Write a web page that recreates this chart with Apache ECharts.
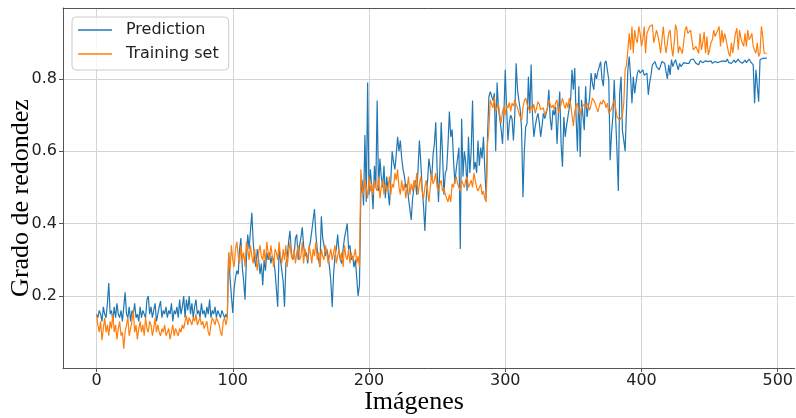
<!DOCTYPE html>
<html>
    <head>
        <meta charset="utf-8" />
        <title>Grado de redondez</title>
        <script src="https://cdn.jsdelivr.net/npm/echarts@6.0.0/dist/echarts.min.js"></script>
        <script>
            // valores, índice = imagen
            const prediction = [
                0.15,0.14,0.16,0.15,0.13,0.17,0.15,0.14,0.18,0.236,
                0.15,0.16,0.13,0.17,0.14,0.18,0.15,0.14,0.16,0.13,
                0.17,0.21,0.15,0.14,0.17,0.13,0.16,0.15,0.18,0.14,
                0.15,0.13,0.17,0.14,0.16,0.15,0.14,0.19,0.2,0.15,
                0.17,0.14,0.16,0.18,0.13,0.15,0.17,0.186,0.14,0.16,
                0.15,0.17,0.14,0.16,0.15,0.18,0.13,0.16,0.15,0.17,
                0.14,0.19,0.15,0.17,0.2,0.14,0.19,0.16,0.2,0.15,
                0.18,0.14,0.17,0.19,0.15,0.16,0.14,0.18,0.15,0.16,
                0.14,0.17,0.15,0.19,0.14,0.16,0.15,0.17,0.14,0.16,
                0.15,0.14,0.16,0.15,0.14,0.15,0.14,
                // 97
                0.32,0.25,0.2,0.153,0.22,0.25,0.27,0.26,0.33,0.36,
                0.28,0.24,0.19,0.3,0.37,0.33,0.38,0.43,0.35,0.3,
                0.28,0.33,0.3,0.26,0.29,0.23,0.3,0.27,0.32,0.3,
                0.32,0.29,0.31,0.3,0.27,0.22,0.17,0.33,0.3,0.27,
                0.24,0.17,0.29,0.31,0.35,0.38,0.32,0.3,0.31,0.36,
                0.37,0.3,0.34,0.36,0.39,0.34,0.31,0.32,0.29,0.33,
                0.35,0.38,0.41,0.44,0.37,0.33,0.3,0.28,0.42,0.36,
                0.34,0.31,0.33,0.31,0.28,0.24,0.17,0.26,0.31,0.33,
                0.37,0.32,0.3,0.29,0.33,0.36,0.38,0.4,0.33,0.34,
                0.3,0.31,0.28,0.3,0.25,0.2,0.23,
                // 194
                0.48,0.52,0.45,0.645,0.46,0.79,0.48,0.55,0.5,0.44,
                0.56,0.5,0.74,0.49,0.58,0.53,0.5,0.56,0.47,0.53,
                0.49,0.45,0.52,0.6,0.57,0.55,0.59,0.64,0.6,0.63,
                0.58,0.55,0.53,0.5,0.51,0.47,0.44,0.41,0.47,0.5,
                0.52,0.48,0.55,0.63,0.57,0.5,0.45,0.38,0.47,0.52,
                0.58,0.55,0.52,0.59,0.62,0.68,0.55,0.46,0.55,0.68,
                0.59,0.48,0.54,0.55,0.62,0.71,0.64,0.66,0.58,0.51,
                0.55,0.58,0.61,0.33,0.69,0.53,0.6,0.57,0.49,0.64,
                0.54,0.6,0.74,0.55,0.57,0.54,0.63,0.56,0.61,0.58,
                0.64,0.55,0.47,
                // 287
                0.64,0.75,0.765,0.77,0.74,0.76,0.6,0.79,0.72,0.69,
                0.66,0.62,0.7,0.825,0.72,0.63,0.68,0.7,0.69,0.63,
                0.7,0.843,0.77,0.74,0.714,0.66,0.473,0.6,0.668,0.677,
                0.806,0.705,0.84,0.7,0.64,0.668,0.69,0.705,0.68,0.64,
                0.67,0.705,0.69,0.686,0.72,0.77,0.69,0.658,0.714,0.7,
                0.723,0.62,0.7,0.765,0.62,0.557,0.695,0.64,0.67,0.695,
                0.72,0.742,0.825,0.77,0.83,0.695,0.6,0.78,0.584,0.742,
                0.7,0.658,0.78,0.695,0.723,0.75,0.816,0.788,0.77,0.816,
                0.8,0.82,0.834,0.848,0.8,0.78,0.843,0.85,0.853,0.797,
                0.575,0.65,0.695,0.797,0.695,0.6,0.49,0.76,0.806,0.658,
                0.63,0.6,
                // 389
                0.714,0.825,0.862,0.806,0.733,0.806,0.76,0.79,0.816,0.825,
                0.816,0.82,0.825,0.81,0.806,0.816,0.756,0.79,0.811,0.839,
                0.839,0.848,0.834,0.83,0.825,0.83,0.848,0.853,0.843,0.82,
                0.8,0.839,0.811,0.853,0.834,0.845,0.853,0.839,0.825,0.843,
                0.834,0.839,0.845,0.848,0.843,0.848,0.843,0.853,0.848,0.855,
                0.85,0.843,0.848,0.839,0.85,0.848,0.845,0.843,0.85,0.855,
                0.848,0.845,0.85,0.843,0.839,0.848,0.852,0.845,0.84,0.848,
                0.843,0.85,0.845,0.848,0.855,0.845,0.85,0.843,0.848,0.852,
                0.845,0.85,0.855,0.848,0.85,0.843,0.848,0.852,0.845,0.85,
                0.855,0.848,0.852,0.839,0.733,0.825,0.83,0.737,0.853,0.857,
                0.857,0.855,0.857,0.858
            ];

            const trainingSet = [
                0.15,0.12,0.1,0.13,0.078,0.11,0.14,0.1,0.12,0.09,
                0.13,0.11,0.15,0.1,0.12,0.08,0.11,0.13,0.09,0.1,
                0.054,0.1,0.12,0.14,0.09,0.11,0.13,0.16,0.1,0.12,
                0.08,0.11,0.13,0.1,0.12,0.09,0.14,0.11,0.1,0.13,
                0.12,0.09,0.11,0.14,0.1,0.12,0.1,0.09,0.11,0.1,
                0.12,0.09,0.1,0.11,0.08,0.1,0.12,0.09,0.11,0.1,
                0.09,0.11,0.1,0.12,0.11,0.13,0.145,0.12,0.14,0.13,
                0.12,0.14,0.13,0.15,0.12,0.13,0.14,0.12,0.13,0.11,
                0.12,0.13,0.1,0.09,0.12,0.14,0.13,0.12,0.14,0.13,
                0.12,0.1,0.09,0.13,0.14,0.12,0.14,
                // 97
                0.32,0.27,0.34,0.3,0.28,0.33,0.35,0.31,0.29,0.34,
                0.3,0.32,0.28,0.35,0.33,0.3,0.34,0.31,0.29,0.33,
                0.3,0.27,0.32,0.34,0.31,0.3,0.33,0.29,0.35,0.32,
                0.3,0.34,0.31,0.28,0.33,0.32,0.3,0.35,0.31,0.29,
                0.33,0.3,0.34,0.28,0.32,0.35,0.31,0.3,0.33,0.29,
                0.32,0.34,0.3,0.31,0.35,0.29,0.33,0.31,0.3,0.34,
                0.32,0.29,0.33,0.31,0.35,0.3,0.32,0.28,0.33,0.31,
                0.3,0.34,0.32,0.29,0.31,0.33,0.3,0.32,0.34,0.29,
                0.31,0.33,0.3,0.32,0.28,0.34,0.31,0.3,0.33,0.29,
                0.32,0.3,0.31,0.33,0.29,0.31,0.28,
                // 194
                0.55,0.5,0.48,0.52,0.5,0.47,0.53,0.49,0.51,0.48,
                0.52,0.5,0.49,0.53,0.47,0.5,0.52,0.48,0.51,0.49,
                0.5,0.53,0.48,0.51,0.5,0.54,0.52,0.55,0.5,0.48,
                0.52,0.49,0.51,0.47,0.5,0.53,0.48,0.51,0.49,0.52,
                0.5,0.54,0.48,0.51,0.53,0.49,0.47,0.5,0.52,0.49,
                0.46,0.5,0.54,0.51,0.52,0.54,0.5,0.49,0.51,0.52,
                0.49,0.5,0.48,0.47,0.46,0.48,0.46,0.51,0.5,0.52,
                0.53,0.51,0.5,0.49,0.52,0.51,0.5,0.52,0.53,0.5,
                0.51,0.52,0.5,0.54,0.52,0.5,0.49,0.5,0.51,0.48,
                0.49,0.47,0.46,
                // 287
                0.62,0.66,0.742,0.73,0.72,0.75,0.71,0.723,0.73,0.7,
                0.677,0.71,0.723,0.7,0.728,0.72,0.735,0.71,0.733,0.725,
                0.742,0.73,0.72,0.705,0.7,0.686,0.72,0.74,0.747,0.73,
                0.728,0.71,0.725,0.714,0.73,0.705,0.72,0.737,0.73,0.715,
                0.714,0.72,0.7,0.695,0.72,0.742,0.73,0.72,0.728,0.715,
                0.735,0.742,0.705,0.718,0.73,0.747,0.73,0.718,0.735,0.72,
                0.747,0.73,0.7,0.67,0.71,0.725,0.733,0.71,0.7,0.72,
                0.718,0.73,0.72,0.733,0.725,0.714,0.73,0.747,0.74,0.733,
                0.72,0.709,0.725,0.737,0.73,0.742,0.735,0.72,0.733,0.705,
                0.71,0.718,0.73,0.742,0.72,0.695,0.7,0.686,0.69,0.7,
                0.733,0.825,
                // 389
                0.838,0.88,0.926,0.88,0.945,0.871,0.935,0.91,0.9,0.945,
                0.926,0.89,0.91,0.945,0.871,0.926,0.93,0.945,0.94,0.95,
                0.9,0.917,0.935,0.92,0.9,0.871,0.908,0.945,0.9,0.871,
                0.875,0.926,0.935,0.89,0.862,0.9,0.95,0.935,0.871,0.89,
                0.88,0.87,0.871,0.935,0.945,0.926,0.93,0.935,0.908,0.88,
                0.88,0.89,0.88,0.871,0.926,0.88,0.9,0.93,0.871,0.917,
                0.866,0.88,0.9,0.908,0.935,0.917,0.926,0.935,0.945,0.89,
                0.935,0.9,0.926,0.91,0.89,0.871,0.862,0.9,0.871,0.9,
                0.926,0.94,0.88,0.935,0.912,0.9,0.89,0.926,0.89,0.935,
                0.908,0.915,0.926,0.89,0.88,0.871,0.9,0.862,0.871,0.945,
                0.917,0.871,0.875,0.871
            ];

            const xTicks = [0, 100, 200, 300, 400, 500];
            const yTicks = [0.2, 0.4, 0.6, 0.8];

            function dibujar() {
                const chart = echarts.init(document.getElementById("grafico"));
                const near = (v, list) => list.some((t) => Math.abs(v - t) < 1e-6);
                const xMin = -24.6;
                const xMax = 512.4;

                const option = {
                    animation: false,
                    grid: {left: 63, right: 0, top: 8, bottom: 50},
                    legend: {
                        orient: "vertical",
                        left: 72,
                        top: 17,
                        padding: [5, 10, 8, 6],
                        itemGap: 8,
                        itemWidth: 34,
                        itemHeight: 1.6,
                        icon: "rect",
                        borderColor: "#cccccc",
                        borderWidth: 1,
                        borderRadius: 4,
                        backgroundColor: "rgba(255,255,255,0.8)",
                        textStyle: {
                            fontFamily: "DejaVu Sans",
                            fontSize: 16,
                            color: "#222",
                            padding: [0, 0, 0, 9],
                        },
                        data: ["Prediction", "Training set"],
                    },
                    xAxis: [
                        {
                            type: "value",
                            min: xMin,
                            max: xMax,
                            axisLine: {onZero: false, lineStyle: {color: "#555"}},
                            axisTick: {customValues: xTicks, length: 4, lineStyle: {color: "#555"}},
                            splitLine: {show: true, lineStyle: {color: "#d4d4d4"}},
                            axisLabel: {
                                customValues: xTicks,
                                fontFamily: "DejaVu Sans",
                                fontSize: 16,
                                color: "#222",
                                margin: 5,
                                formatter: (v) => (near(v, xTicks) ? String(v) : ""),
                            },
                        },
                        {
                            // borde superior del marco
                            type: "value",
                            position: "top",
                            min: xMin,
                            max: xMax,
                            axisLine: {show: true, onZero: false, lineStyle: {color: "#555"}},
                            axisTick: {show: false},
                            axisLabel: {show: false},
                            splitLine: {show: false},
                        },
                    ],
                    yAxis: {
                        type: "value",
                        min: 0.001,
                        max: 0.996,
                        axisLine: {show: true, onZero: false, lineStyle: {color: "#555"}},
                        axisTick: {show: true, customValues: yTicks, length: 4, lineStyle: {color: "#555"}},
                        splitLine: {show: true, lineStyle: {color: "#d4d4d4"}},
                        axisLabel: {
                            customValues: yTicks,
                            fontFamily: "DejaVu Sans",
                            fontSize: 16,
                            color: "#222",
                            margin: 6,
                            formatter: (v) => (near(v, yTicks) ? v.toFixed(1) : ""),
                        },
                    },
                    graphic: [
                        {
                            type: "text",
                            x: 414,
                            y: 402,
                            style: {
                                text: "Imágenes",
                                fontFamily: "Liberation Serif",
                                fontSize: 26,
                                fill: "#000",
                                align: "center",
                                verticalAlign: "middle",
                            },
                        },
                        {
                            type: "text",
                            x: 21,
                            y: 198,
                            rotation: Math.PI / 2,
                            style: {
                                text: "Grado de redondez",
                                fontFamily: "Liberation Serif",
                                fontSize: 26,
                                fill: "#000",
                                align: "center",
                                verticalAlign: "middle",
                            },
                        },
                    ],
                    series: [
                        {
                            name: "Prediction",
                            type: "line",
                            showSymbol: false,
                            data: prediction.map((v, i) => [i, v]),
                            lineStyle: {width: 1.2, color: "#1f77b4"},
                            itemStyle: {color: "#1f77b4"},
                        },
                        {
                            name: "Training set",
                            type: "line",
                            showSymbol: false,
                            data: trainingSet.map((v, i) => [i, v]),
                            lineStyle: {width: 1.2, color: "#ff7f0e"},
                            itemStyle: {color: "#ff7f0e"},
                        },
                    ],
                };

                chart.setOption(option);
            }

            window.onload = dibujar;
        </script>
    </head>
    <body style="margin: 0">
        <div id="grafico" style="width: 796px; height: 418px"></div>
    </body>
</html>
